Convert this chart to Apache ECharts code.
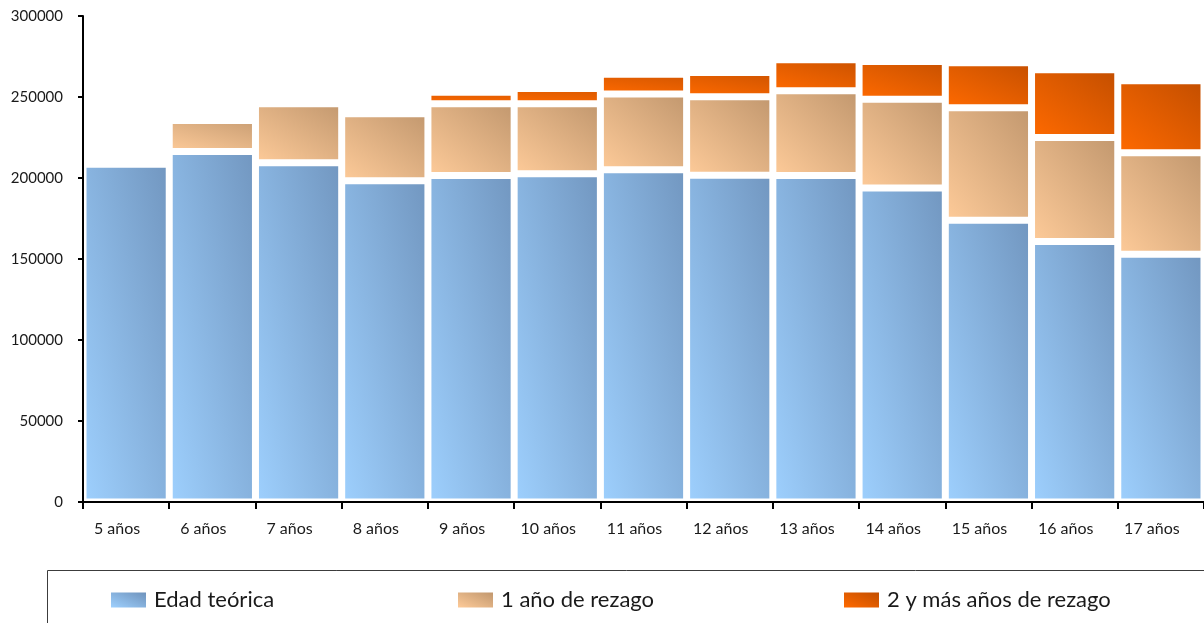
<!DOCTYPE html>
<html>
<head>
<meta charset="utf-8">
<script src="https://cdn.jsdelivr.net/npm/echarts@6/dist/echarts.min.js"></script>
<style>
html,body{margin:0;padding:0;background:#fff;}
#main{width:1204px;height:623px;}
</style>
</head>
<body>
<div id="main"></div>
<script>
const categories = ['5 años','6 años','7 años','8 años','9 años','10 años','11 años','12 años','13 años','14 años','15 años','16 años','17 años'];
const seriesNames = ['Edad teórica','1 año de rezago','2 y más años de rezago'];
const edadTeorica = [208500, 216400, 209400, 198300, 201500, 202600, 205100, 201700, 201500, 193800, 173900, 160800, 153000];
const unAnioRezago = [0, 19100, 36400, 41300, 44300, 43300, 46800, 48500, 52300, 54800, 69400, 64200, 62600];
const dosMasRezago = [0, 0, 0, 0, 7200, 9350, 12200, 14900, 19200, 23300, 27800, 41800, 44400];
const yTickValues = [0, 50000, 100000, 150000, 200000, 250000, 300000];

const GRID = {left: 83, right: 0, top: 16, bottom: 121};
const Y_MAX = 300000;
const BORDER = 3.5;
const plotH = 623 - GRID.top - GRID.bottom;
const barW = (1204 - GRID.left - GRID.right) / categories.length - 2 * BORDER;

function diagGrad(w, h, c0, c1) {
  const d = h * h + w * w;
  const x2 = 2 * h * h / d;
  const y2 = 1 - 2 * w * w / d;
  return new echarts.graphic.LinearGradient(0, 1, x2, y2, [
    {offset: 0, color: c0}, {offset: 1, color: c1}
  ]);
}
const palette = [
  ['#9ed0fe', '#6f93bc'],
  ['#fecb99', '#c1976e'],
  ['#ff6a00', '#c24e00']
];
function itemsFor(values, pal) {
  return values.map(v => {
    const h = Math.max(v * plotH / Y_MAX - 2 * BORDER, 1);
    return {value: v, itemStyle: {color: diagGrad(barW, h, pal[0], pal[1])}};
  });
}
const dataSets = [edadTeorica, unAnioRezago, dosMasRezago];

const chart = echarts.init(document.getElementById('main'), null, {renderer: 'canvas'});
const FONT = 'Lato, "Open Sans", sans-serif';
const legendLefts = [106, 453, 839];

chart.setOption({
  animation: false,
  backgroundColor: '#ffffff',
  grid: GRID,
  xAxis: {
    type: 'category',
    z: 10,
    data: categories,
    axisLine: {lineStyle: {color: '#000', width: 2}},
    axisTick: {show: true, length: 7, lineStyle: {color: '#000', width: 2}},
    axisLabel: {color: '#1a1a1a', fontFamily: FONT, fontSize: 16, margin: 19, padding: [0, 18, 0, 0]},
    splitLine: {show: false}
  },
  yAxis: {
    type: 'value',
    z: 10,
    min: 0, max: Y_MAX, interval: 50000,
    axisLine: {show: true, lineStyle: {color: '#000', width: 2}},
    axisTick: {show: true, length: 5, lineStyle: {color: '#000', width: 2}},
    axisLabel: {color: '#1a1a1a', fontFamily: FONT, fontSize: 15, margin: 20,
      formatter: v => yTickValues.indexOf(v) >= 0 ? String(v) : ''},
    splitLine: {show: false}
  },
  legend: seriesNames.map((n, i) => ({
    data: [n],
    left: legendLefts[i],
    top: 584,
    icon: 'rect',
    itemWidth: 35,
    itemHeight: 15,
    itemStyle: {borderWidth: 0},
    textStyle: {fontFamily: FONT, fontSize: 22, color: '#1a1a1a', padding: [0, 0, 0, 3]}
  })),
  graphic: [{
    type: 'rect',
    shape: {x: 47.5, y: 570.5, width: 1200, height: 80},
    style: {fill: 'none', stroke: '#3c3c3c', lineWidth: 1},
    silent: true
  }],
  series: seriesNames.map((n, i) => ({
    name: n,
    type: 'bar',
    stack: 'total',
    barWidth: '100%',
    data: itemsFor(dataSets[i], palette[i]),
    itemStyle: {
      color: diagGrad(35, 15, palette[i][0], palette[i][1]),
      borderColor: '#ffffff',
      borderWidth: BORDER
    },
    emphasis: {disabled: true}
  }))
});
</script>
</body>
</html>
